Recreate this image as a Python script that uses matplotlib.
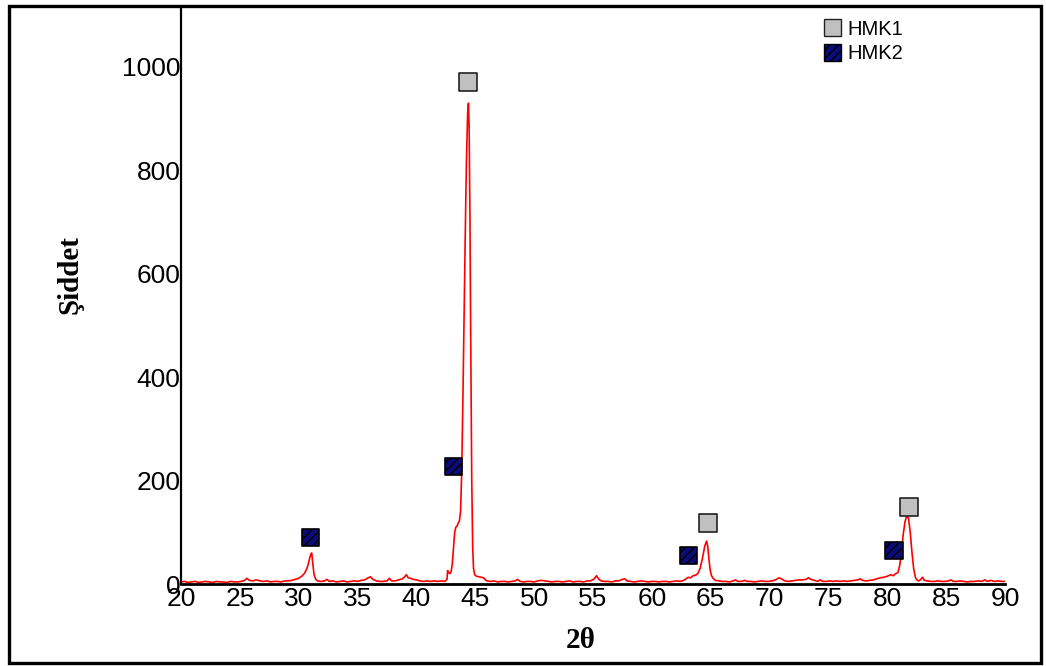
import numpy as np
import matplotlib
matplotlib.use('Agg')
import matplotlib.pyplot as plt
from matplotlib.patches import Patch, Rectangle

# XRD pattern (2theta in degrees, intensity in counts)
two_theta = [
    20.0, 20.3, 20.6, 20.9, 21.2, 21.5, 21.8, 22.1, 22.4, 22.7, 23.0, 23.3,
    23.6, 23.9, 24.2, 24.5, 24.8, 25.1, 25.4, 25.6, 25.8, 26.1, 26.4, 26.7,
    27.0, 27.3, 27.6, 27.9, 28.2, 28.5, 28.8, 29.1, 29.4, 29.7, 30.0, 30.3,
    30.5, 30.7, 30.85, 31.0, 31.1, 31.2, 31.3, 31.45, 31.6, 31.9, 32.2, 32.4,
    32.6, 32.9, 33.2, 33.5, 33.8, 34.1, 34.4, 34.7, 35.0, 35.3, 35.6, 35.9,
    36.1, 36.3, 36.6, 36.9, 37.2, 37.5, 37.7, 37.9, 38.2, 38.5, 38.8, 39.0,
    39.15, 39.3, 39.5, 39.7, 40.0, 40.3, 40.6, 40.9, 41.2, 41.5, 41.8, 42.1,
    42.4, 42.6, 42.65, 42.75, 42.85, 42.95, 43.05, 43.15, 43.25, 43.35, 43.45,
    43.55, 43.65, 43.75, 43.85, 43.95, 44.05, 44.15, 44.25, 44.35, 44.42,
    44.48, 44.55, 44.62, 44.7, 44.78, 44.85, 44.95, 45.1, 45.3, 45.5, 45.7,
    45.85, 46.0, 46.3, 46.6, 46.9, 47.2, 47.5, 47.8, 48.1, 48.4, 48.6, 48.8,
    49.1, 49.4, 49.7, 50.0, 50.3, 50.6, 50.9, 51.2, 51.5, 51.8, 52.1, 52.4,
    52.7, 53.0, 53.3, 53.6, 53.9, 54.2, 54.5, 54.8, 55.1, 55.3, 55.5, 55.7,
    56.0, 56.3, 56.6, 56.9, 57.2, 57.5, 57.7, 57.9, 58.2, 58.5, 58.8, 59.1,
    59.4, 59.7, 60.0, 60.3, 60.6, 60.9, 61.2, 61.5, 61.8, 62.1, 62.4, 62.7,
    62.9, 63.1, 63.3, 63.5, 63.7, 63.9, 64.1, 64.3, 64.5, 64.65, 64.75, 64.85,
    64.95, 65.05, 65.2, 65.4, 65.7, 66.0, 66.3, 66.6, 66.9, 67.1, 67.3, 67.6,
    67.9, 68.1, 68.4, 68.7, 69.0, 69.3, 69.6, 69.9, 70.2, 70.5, 70.8, 71.0,
    71.3, 71.6, 71.9, 72.2, 72.5, 72.8, 73.1, 73.3, 73.5, 73.8, 74.1, 74.3,
    74.5, 74.8, 75.1, 75.4, 75.7, 76.0, 76.3, 76.6, 76.9, 77.2, 77.5, 77.7,
    77.9, 78.2, 78.5, 78.8, 79.1, 79.4, 79.7, 80.0, 80.3, 80.5, 80.7, 80.9,
    81.05, 81.2, 81.35, 81.5, 81.65, 81.8, 81.95, 82.1, 82.25, 82.4, 82.55,
    82.7, 82.85, 83.0, 83.15, 83.4, 83.7, 84.0, 84.3, 84.6, 84.9, 85.2, 85.4,
    85.6, 85.9, 86.2, 86.5, 86.8, 87.1, 87.4, 87.7, 88.0, 88.3, 88.5, 88.8,
    89.1, 89.4, 89.7, 90.0,
]
intensity = [
    4, 5, 3, 4, 5, 3, 4, 5, 4, 3, 5, 4,
    4, 3, 5, 4, 4, 5, 7, 11, 7, 6, 8, 6,
    5, 6, 4, 5, 5, 4, 6, 6, 7, 9, 11, 16,
    21, 30, 42, 56, 60, 38, 18, 9, 6, 5, 6, 9,
    5, 6, 4, 5, 6, 4, 5, 6, 5, 7, 8, 12,
    14, 9, 6, 5, 5, 6, 11, 6, 6, 8, 10, 14,
    18, 12, 11, 9, 8, 6, 5, 6, 5, 6, 5, 6,
    5, 9, 26, 22, 20, 24, 40, 70, 100, 110, 112,
    118, 122, 140, 220, 360, 520, 680, 820, 910, 930,
    880, 700, 450, 200, 70, 30, 18, 15, 14, 13, 12,
    8, 6, 5, 6, 4, 5, 5, 4, 5, 6, 9, 5,
    4, 5, 5, 4, 6, 7, 6, 5, 4, 5, 5, 4,
    5, 6, 4, 5, 5, 4, 6, 6, 10, 16, 9, 6,
    5, 5, 4, 6, 6, 9, 10, 6, 5, 4, 5, 6,
    5, 4, 5, 5, 4, 5, 5, 4, 5, 6, 5, 7,
    10, 13, 12, 16, 17, 20, 30, 50, 74, 83, 72, 48,
    28, 17, 11, 7, 6, 5, 5, 4, 6, 8, 5, 5,
    7, 5, 5, 4, 5, 6, 5, 5, 6, 8, 12, 10,
    6, 5, 6, 7, 8, 8, 9, 12, 9, 7, 5, 8,
    5, 5, 6, 5, 6, 5, 6, 5, 6, 7, 8, 10,
    7, 6, 7, 8, 10, 12, 13, 15, 18, 16, 20, 22,
    35, 60, 95, 120, 132, 128, 100, 60, 28, 12, 7,
    6, 9, 13, 7, 6, 5, 5, 6, 5, 5, 6, 8,
    5, 5, 6, 5, 4, 5, 5, 6, 5, 8, 5, 7,
    5, 6, 5, 5,
]

# phase markers
hmk1_x = [44.38, 64.73, 81.81]
hmk1_y = [971, 118, 149]
hmk2_x = [31.04, 43.19, 63.11, 80.57]
hmk2_y = [89, 227, 56, 64]

x_ticks = [20, 25, 30, 35, 40, 45, 50, 55, 60, 65, 70, 75, 80, 85, 90]
y_ticks = [0, 200, 400, 600, 800, 1000]

GRAY = '#c0c0c0'
NAVY = '#0b0b7a'
W, H = 1046.0, 666.0

plt.rcParams['font.family'] = ['Liberation Sans', 'DejaVu Sans']
plt.rcParams['hatch.linewidth'] = 1.0


def main():
    fig = plt.figure(figsize=(W / 100, H / 100), dpi=100)
    x0, x1 = 181.0, 1005.0
    y_top, y_axis = 7.0, 584.0
    ax = fig.add_axes([x0 / W, (H - y_axis) / H, (x1 - x0) / W,
                       (y_axis - y_top) / H])
    ax.patch.set_alpha(0)

    ax.plot(two_theta, intensity, color='red', lw=1.2, zorder=2)

    ax.scatter(hmk1_x, hmk1_y, marker='s', s=150, facecolor=GRAY,
               edgecolor='#222222', linewidths=1.2, zorder=3)
    ax.scatter(hmk2_x, hmk2_y, marker='s', s=150, facecolor=NAVY,
               edgecolor='black', linewidths=1.2, hatch='////', zorder=3)

    px_per_unit = 0.517
    ax.set_xlim(20, 90)
    ax.set_ylim(0, (y_axis - y_top) / px_per_unit)
    ax.set_xticks(x_ticks)
    ax.set_yticks(y_ticks)
    ax.tick_params(length=0, labelsize=19)
    ax.tick_params(axis='x', pad=2.5)
    ax.tick_params(axis='y', pad=0.5)

    for side in ['top', 'right']:
        ax.spines[side].set_visible(False)
    ax.spines['left'].set_linewidth(1.6)
    ax.spines['bottom'].set_linewidth(2.0)

    fig.text(70 / W, 1 - 275 / H, 'Şiddet', rotation=90, ha='center',
             va='center', family='Liberation Serif', weight='bold',
             fontsize=21)
    fig.text(581 / W, 1 - 641 / H, '2θ', ha='center', va='center',
             family='Liberation Serif', weight='bold', fontsize=21)

    handles = [
        Patch(facecolor=GRAY, edgecolor='#222222', lw=1.0, label='HMK1'),
        Patch(facecolor=NAVY, edgecolor='black', lw=1.0, hatch='////',
              label='HMK2'),
    ]
    fig.legend(handles=handles, loc='upper left',
               bbox_to_anchor=(824 / W, 1 - 19 / H), frameon=False,
               fontsize=14.5, handlelength=0.85, handleheight=0.95,
               handletextpad=0.3, labelspacing=0.25, borderpad=0,
               borderaxespad=0)

    fig.add_artist(Rectangle((8.5 / W, 3.5 / H), 1032 / W, 657 / H,
                             fill=False, lw=2.4, edgecolor='black',
                             transform=fig.transFigure))

    fig.savefig('out.png', dpi=100)


if __name__ == '__main__':
    main()
